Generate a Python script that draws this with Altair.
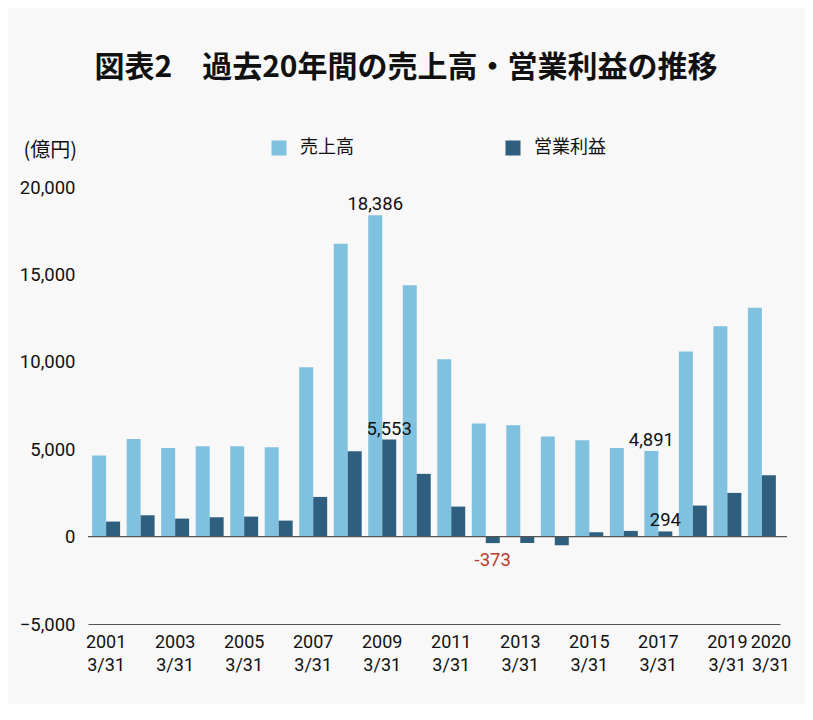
import altair as alt
import pandas as pd

years = [str(y) for y in range(2001, 2021)]
sales = [4640, 5590, 5075, 5170, 5170, 5110, 9690, 16750, 18386, 14385,
         10150, 6470, 6370, 5725, 5510, 5075, 4891, 10590, 12040, 13090]
profit = [860, 1220, 1030, 1105, 1145, 915, 2270, 4880, 5553, 3590,
          1717, -373, -365, -496, 250, 324, 294, 1775, 2500, 3510]
series_names = ["売上高", "営業利益"]
series_colors = ["#80c1df", "#2e5f7f"]
label_years = ["2001", "2003", "2005", "2007", "2009", "2011", "2013",
               "2015", "2017", "2019", "2020"]
y_ticks = [-5000, 0, 5000, 10000, 15000, 20000]
# data labels: (year, series)
labelled = [("2009", "売上高"), ("2009", "営業利益"), ("2012", "営業利益"),
            ("2017", "売上高"), ("2017", "営業利益")]

rows = []
for i, y in enumerate(years):
    rows.append({"year": y, "series": series_names[0], "value": sales[i]})
    rows.append({"year": y, "series": series_names[1], "value": profit[i]})
df = pd.DataFrame(rows)
lab = df[[(r.year, r.series) in labelled for r in df.itertuples()]].copy()
lab["text"] = lab["value"].map(lambda v: f"{v:,}")

FONT_NUM = "Roboto"
FONT_JP = "Noto Sans CJK JP"
NUM_SIZE = 18.5

x_enc = alt.X("year:N", sort=years, title=None,
              scale=alt.Scale(paddingInner=0.19, paddingOuter=0.12),
              axis=alt.Axis(labelExpr="indexof(" + str(label_years) + ", datum.label) >= 0 ? [datum.label, '3/31'] : ''",
                            labelAngle=0, ticks=False, domainColor="#555555",
                            domainWidth=1.2, labelFontSize=18, labelFont=FONT_NUM,
                            labelColor="#111111", labelPadding=9, labelLineHeight=23,
                            labelBaseline="top",
                            labelOffset={"condition": {"test": "datum.label == '2020'", "value": 9},
                                         "value": 0}))
y_scale = alt.Scale(domain=[-5000, 20000], nice=False, zero=False)

bars = alt.Chart(df).mark_bar().encode(
    x=x_enc,
    xOffset=alt.XOffset("series:N", sort=series_names),
    y=alt.Y("value:Q", scale=y_scale,
            axis=alt.Axis(values=y_ticks, format=",d",
                          grid=False, domain=False, ticks=False, labelFontSize=NUM_SIZE,
                          labelFont=FONT_NUM, labelColor="#111111", labelPadding=13,
                          title="(億円)", titleAngle=0, titleX=-65, titleY=-31,
                          titleAlign="left", titleBaseline="alphabetic",
                          titleFont=FONT_JP, titleFontWeight="normal",
                          titleFontSize=20, titleColor="#111111")),
    color=alt.Color("series:N", sort=series_names,
                    scale=alt.Scale(domain=series_names, range=series_colors),
                    legend=alt.Legend(title=None, orient="none", legendX=182, legendY=-48,
                                      direction="horizontal", symbolType="square",
                                      symbolSize=225, symbolStrokeWidth=0,
                                      labelFont=FONT_JP, labelFontSize=18,
                                      labelColor="#111111", labelOffset=12,
                                      columnPadding=150, padding=0)),
)

zero = alt.Chart(pd.DataFrame({"v": [0]})).mark_rule(color="#555555", strokeWidth=1.2).encode(
    y=alt.Y("v:Q", scale=y_scale), x=alt.value(0), x2=alt.value(699))

pos_text = alt.Chart(lab[lab.value >= 0]).mark_text(
    baseline="alphabetic", dy=-5, fontSize=NUM_SIZE, font=FONT_NUM, color="#111111").encode(
    x=alt.X("year:N", sort=years),
    xOffset=alt.XOffset("series:N", sort=series_names),
    y=alt.Y("value:Q", scale=y_scale), text="text:N")

neg_text = alt.Chart(lab[lab.value < 0]).mark_text(
    baseline="top", dy=8, fontSize=NUM_SIZE, font=FONT_NUM, color="#c0392b").encode(
    x=alt.X("year:N", sort=years),
    xOffset=alt.XOffset("series:N", sort=series_names),
    y=alt.Y("value:Q", scale=y_scale), text="text:N")

chart = alt.layer(bars, zero, pos_text, neg_text).properties(
    width=692, height=437,
    title=alt.TitleParams("図表2　過去20年間の売上高・営業利益の推移", font=FONT_JP,
                          fontSize=30, fontWeight="bold", color="#111111",
                          anchor="middle", dx=-28, offset=56),
    autosize=alt.AutoSizeParams(type="none"),
    padding={"left": 80, "top": 179, "right": 25, "bottom": 80},
    background="#f8f8f8",
).configure_view(stroke=None)

chart.save("out.html", embed_options={"renderer": "svg", "actions": False})
